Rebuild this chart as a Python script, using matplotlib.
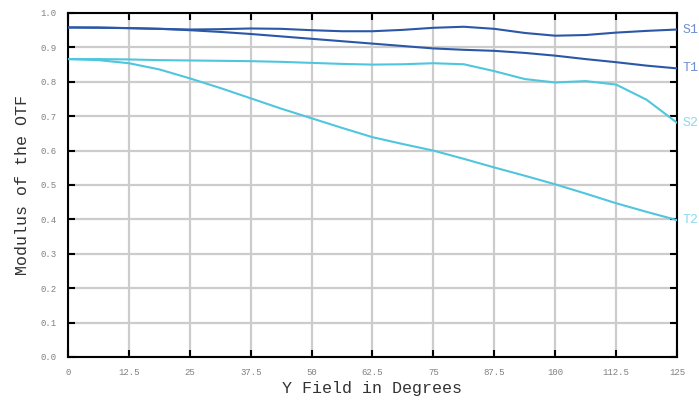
import numpy as np
import matplotlib.pyplot as plt

# datos (cada 6.25 grados)
field = [0, 6.25, 12.5, 18.75, 25, 31.25, 37.5, 43.75, 50, 56.25, 62.5,
         68.75, 75, 81.25, 87.5, 93.75, 100, 106.25, 112.5, 118.75, 125]
s1 = [0.958, 0.958, 0.956, 0.954, 0.952, 0.953, 0.955, 0.954, 0.950, 0.947, 0.947,
      0.951, 0.957, 0.960, 0.954, 0.942, 0.934, 0.936, 0.943, 0.948, 0.952]
t1 = [0.958, 0.957, 0.956, 0.954, 0.950, 0.945, 0.939, 0.932, 0.925, 0.918, 0.911,
      0.904, 0.897, 0.893, 0.890, 0.884, 0.876, 0.866, 0.857, 0.847, 0.839]
s2 = [0.866, 0.866, 0.865, 0.863, 0.862, 0.861, 0.860, 0.858, 0.855, 0.852, 0.850,
      0.851, 0.854, 0.851, 0.831, 0.808, 0.798, 0.802, 0.792, 0.748, 0.681]
t2 = [0.866, 0.863, 0.854, 0.836, 0.810, 0.782, 0.752, 0.722, 0.694, 0.666, 0.639,
      0.619, 0.600, 0.576, 0.551, 0.527, 0.502, 0.475, 0.447, 0.422, 0.398]

series = [('S1', s1, '#2b57a7', '#6f8fcf'),
          ('T1', t1, '#2b57a7', '#6f8fcf'),
          ('S2', s2, '#4fc6de', '#8fd8ec'),
          ('T2', t2, '#4fc6de', '#8fd8ec')]

xticks = [0, 12.5, 25, 37.5, 50, 62.5, 75, 87.5, 100, 112.5, 125]
xticklabels = ['0', '12.5', '25', '37.5', '50', '62.5', '75', '87.5', '100', '112.5', '125']
yticks = np.round(np.arange(0, 1.01, 0.1), 1)

plt.rcParams['font.family'] = ['Liberation Mono', 'DejaVu Sans Mono']

fig = plt.figure(figsize=(6.99, 4.0), dpi=100)
ax = fig.add_axes([0.0973, 0.1075, 0.8712, 0.86])

for name, vals, col, lcol in series:
    ax.plot(field, vals, color=col, linewidth=1.5, zorder=3)
    ax.annotate(name, xy=(125, vals[-1]), xytext=(4, 0), textcoords='offset points',
                color=lcol, fontsize=9.5, va='center', ha='left', annotation_clip=False)

ax.set_xlim(0, 125)
ax.set_ylim(0, 1.0)
ax.set_xticks(xticks)
ax.set_xticklabels(xticklabels)
ax.set_yticks(yticks)
ax.set_yticklabels(['%.1f' % v for v in yticks])

ax.grid(True, color='#cccccc', linewidth=1.6, zorder=0)
ax.set_axisbelow(True)
for sp in ax.spines.values():
    sp.set_color('black')
    sp.set_linewidth(1.5)

ax.tick_params(direction='in', length=5, width=1.5, color='black',
               top=True, right=True, labelsize=6.5, labelcolor='#808080', pad=8)

ax.set_xlabel('Y Field in Degrees', fontsize=12, color='#333333', labelpad=3)
ax.set_ylabel('Modulus of the OTF', fontsize=12, color='#333333', labelpad=8)

fig.savefig('out.png', dpi=100)
